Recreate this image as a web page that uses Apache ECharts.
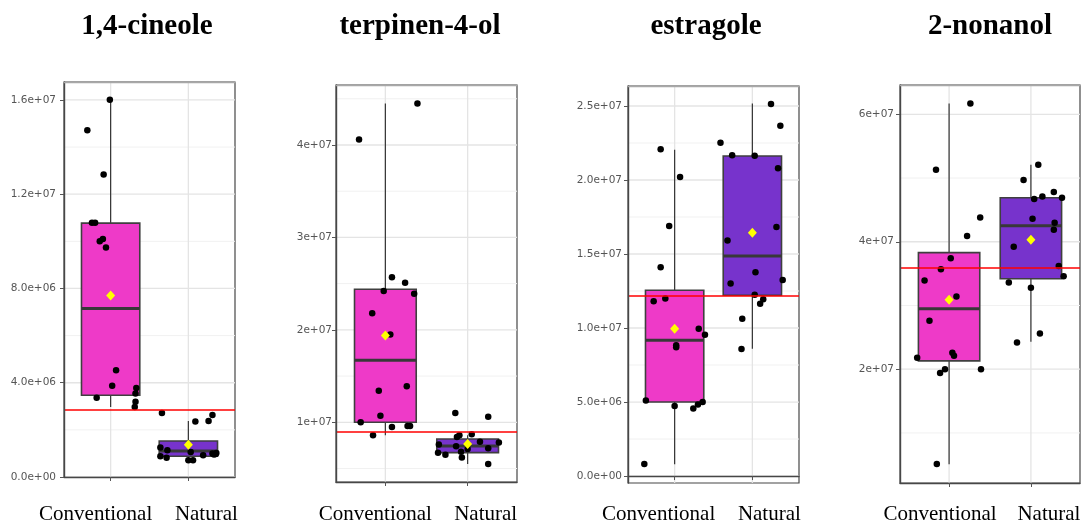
<!DOCTYPE html>
<html>
<head>
<meta charset="utf-8">
<script src="https://cdn.jsdelivr.net/npm/echarts@6/dist/echarts.min.js"></script>
<style>
  html, body { margin: 0; padding: 0; background: #ffffff; }
  #chart { width: 1083px; height: 524px; }
</style>
</head>
<body>
<div id="chart"></div>
<script>
// ---- data ----------------------------------------------------------------
const categories = ['Conventional', 'Natural'];
const titles = ['1,4-cineole', 'terpinen-4-ol', 'estragole', '2-nonanol'];

// 1,4-cineole
const cineoleConv = [16.01e6, 14.71e6, 12.83e6, 10.79e6, 10.79e6, 10.10e6, 10.00e6, 9.74e6, 4.53e6, 3.87e6, 3.78e6, 3.54e6, 3.36e6, 3.19e6, 2.97e6];
const cineoleConvJitter = [-0.01, -0.30, -0.09, -0.24, -0.20, -0.10, -0.14, -0.06, 0.07, 0.02, 0.33, 0.32, -0.18, 0.32, 0.31];
const cineoleNat = [2.72e6, 2.63e6, 2.38e6, 2.35e6, 1.25e6, 1.13e6, 0.88e6, 0.82e6, 1.06e6, 0.71e6, 0.71e6, 0.92e6, 1.00e6, 0.95e6, 1.02e6, 0.98e6];
const cineoleNatJitter = [-0.34, 0.31, 0.26, 0.09, -0.36, -0.27, -0.36, -0.28, 0.03, 0.00, 0.06, 0.19, 0.31, 0.33, 0.36, 0.35];
const cineoleBox = [[2.97e6, 3.47e6, 7.15e6, 10.77e6, 16.01e6], [0.71e6, 0.88e6, 1.10e6, 1.53e6, 2.38e6]];
const cineoleMean = [7.70e6, 1.37e6];
const cineoleRef = 2.86e6;
const cineoleTicks = [0, 4e6, 8e6, 12e6, 16e6];
const cineoleTickLabels = ['0.0e+00', '4.0e+06', '8.0e+06', '1.2e+07', '1.6e+07'];

// terpinen-4-ol
const terpConv = [4.45e7, 4.06e7, 2.57e7, 2.51e7, 2.42e7, 2.39e7, 2.18e7, 1.95e7, 1.39e7, 1.34e7, 1.07e7, 1.00e7, 0.95e7, 0.96e7, 0.96e7, 0.86e7];
const terpConvJitter = [0.39, -0.32, 0.08, 0.24, -0.02, 0.35, -0.16, 0.06, 0.26, -0.08, -0.06, -0.30, 0.08, 0.27, 0.30, -0.15];
const terpNat = [1.10e7, 1.06e7, 0.86e7, 0.87e7, 0.79e7, 0.78e7, 0.76e7, 0.74e7, 0.72e7, 0.71e7, 0.68e7, 0.67e7, 0.65e7, 0.84e7, 0.62e7, 0.55e7];
const terpNatJitter = [-0.15, 0.25, -0.10, 0.05, 0.15, 0.38, -0.35, -0.14, 0.25, 0.00, -0.08, -0.36, -0.27, -0.13, -0.07, 0.25];
const terpBox = [[0.86e7, 1.00e7, 1.67e7, 2.44e7, 4.45e7], [0.55e7, 0.672e7, 0.744e7, 0.82e7, 0.86e7]];
const terpMean = [1.94e7, 0.766e7];
const terpRef = 0.903e7;
const terpTicks = [1e7, 2e7, 3e7, 4e7];
const terpTickLabels = ['1e+07', '2e+07', '3e+07', '4e+07'];

// estragole
const estrConv = [2.207e7, 2.02e7, 1.69e7, 1.41e7, 1.18e7, 1.20e7, 0.995e7, 0.955e7, 0.883e7, 0.87e7, 0.511e7, 0.473e7, 0.457e7, 0.484e7, 0.50e7, 0.081e7];
const estrConvJitter = [-0.18, 0.07, -0.07, -0.18, -0.27, -0.12, 0.31, 0.39, 0.02, 0.02, -0.37, 0.00, 0.24, 0.30, 0.36, -0.39];
const estrNat = [2.513e7, 2.367e7, 2.252e7, 2.167e7, 2.164e7, 2.079e7, 1.682e7, 1.592e7, 1.376e7, 1.30e7, 1.324e7, 1.225e7, 1.194e7, 1.164e7, 1.063e7, 0.858e7];
const estrNatJitter = [0.24, 0.36, -0.41, -0.26, 0.03, 0.33, 0.31, -0.32, 0.04, -0.28, 0.39, 0.03, 0.14, 0.10, -0.13, -0.14];
const estrBox = [[0.08e7, 0.50e7, 0.917e7, 1.255e7, 2.205e7], [0.86e7, 1.221e7, 1.486e7, 2.162e7, 2.516e7]];
const estrMean = [0.995e7, 1.644e7];
const estrRef = 1.216e7;
const estrTicks = [0, 5e6, 1e7, 1.5e7, 2e7, 2.5e7];
const estrTickLabels = ['0.0e+00', '5.0e+06', '1.0e+07', '1.5e+07', '2.0e+07', '2.5e+07'];

// 2-nonanol
const nonConv = [6.17e7, 5.13e7, 4.38e7, 4.09e7, 3.74e7, 3.57e7, 3.39e7, 3.14e7, 2.76e7, 2.26e7, 2.21e7, 2.18e7, 2.00e7, 1.94e7, 2.00e7, 0.513e7];
const nonConvJitter = [0.26, -0.16, 0.38, 0.22, 0.02, -0.10, -0.30, 0.09, -0.24, 0.04, 0.06, -0.39, -0.05, -0.11, 0.39, -0.15];
const nonNat = [5.21e7, 4.97e7, 4.78e7, 4.67e7, 4.71e7, 4.69e7, 4.36e7, 4.30e7, 4.19e7, 3.92e7, 3.62e7, 3.46e7, 3.36e7, 3.28e7, 2.56e7, 2.42e7];
const nonNatJitter = [0.09, -0.09, 0.28, 0.04, 0.14, 0.38, 0.02, 0.29, 0.28, -0.21, 0.34, 0.40, -0.27, 0.00, 0.11, -0.17];
const nonBox = [[0.51e7, 2.13e7, 2.95e7, 3.83e7, 6.17e7], [2.43e7, 3.42e7, 4.25e7, 4.69e7, 5.21e7]];
const nonMean = [3.09e7, 4.03e7];
const nonRef = 3.59e7;
const nonTicks = [2e7, 4e7, 6e7];
const nonTickLabels = ['2e+07', '4e+07', '6e+07'];

// ---- panel layout ----------------------------------------------------------
const panels = [
  { title: titles[0], titleX: 147, grid: { left: 64, top: 82, width: 171, height: 395 }, yRange: [0, 16.76e6],
    conv: cineoleConv, convJ: cineoleConvJitter, nat: cineoleNat, natJ: cineoleNatJitter,
    box: cineoleBox, mean: cineoleMean, ref: cineoleRef, ticks: cineoleTicks, tickLabels: cineoleTickLabels,
    labelMargin: 8, catMargin: 27, catShift: [-15, 18] },
  { title: titles[1], titleX: 420, grid: { left: 336, top: 85, width: 181, height: 397 }, yRange: [3.54e6, 46.49e6],
    conv: terpConv, convJ: terpConvJitter, nat: terpNat, natJ: terpNatJitter,
    box: terpBox, mean: terpMean, ref: terpRef, ticks: terpTicks, tickLabels: terpTickLabels,
    labelMargin: 4, catMargin: 22, catShift: [-10, 18] },
  { title: titles[2], titleX: 706, grid: { left: 628, top: 86, width: 171, height: 397 }, yRange: [-0.47e6, 26.35e6],
    conv: estrConv, convJ: estrConvJitter, nat: estrNat, natJ: estrNatJitter,
    box: estrBox, mean: estrMean, ref: estrRef, ticks: estrTicks, tickLabels: estrTickLabels,
    labelMargin: 6, catMargin: 21, catShift: [-16, 17] },
  { title: titles[3], titleX: 990, grid: { left: 900, top: 85, width: 180, height: 398 }, yRange: [2.14e6, 64.6e6],
    conv: nonConv, convJ: nonConvJitter, nat: nonNat, natJ: nonNatJitter,
    box: nonBox, mean: nonMean, ref: nonRef, ticks: nonTicks, tickLabels: nonTickLabels,
    labelMargin: 6, catMargin: 21, catShift: [-9, 18] }
];

const BOX_COLORS = ['#ee3ac8', '#7733cc'];
const BOX_WIDTH = 0.75;
const X_MIN = 0.4, X_MAX = 2.6;

// one gridline per item: [x1, y1, x2, y2, major(1)/minor(0)] in data units
function renderGridLine(params, api) {
  const a = api.coord([api.value(0), api.value(1)]);
  const b = api.coord([api.value(2), api.value(3)]);
  const major = api.value(4) === 1;
  return {
    type: 'line',
    shape: { x1: a[0], y1: a[1], x2: b[0], y2: b[1] },
    style: { stroke: major ? '#e4e4e4' : '#f1f1f1', lineWidth: major ? 1.3 : 1 }
  };
}

function renderBox(params, api) {
  const x = api.value(0);
  const lo = api.coord([x, api.value(1)]);
  const q1 = api.coord([x, api.value(2)]);
  const md = api.coord([x, api.value(3)]);
  const q3 = api.coord([x, api.value(4)]);
  const hi = api.coord([x, api.value(5)]);
  const half = api.coord([x + BOX_WIDTH / 2, api.value(3)])[0] - md[0];
  const whisker = { stroke: '#333333', lineWidth: 1.2 };
  return {
    type: 'group',
    children: [
      { type: 'line', shape: { x1: lo[0], y1: lo[1], x2: q1[0], y2: q1[1] }, style: whisker },
      { type: 'line', shape: { x1: q3[0], y1: q3[1], x2: hi[0], y2: hi[1] }, style: whisker },
      { type: 'rect', shape: { x: md[0] - half, y: q3[1], width: 2 * half, height: q1[1] - q3[1] },
        style: { fill: BOX_COLORS[params.dataIndex], stroke: '#3f3f3f', lineWidth: 1.6 } },
      { type: 'line', shape: { x1: md[0] - half, y1: md[1], x2: md[0] + half, y2: md[1] },
        style: { stroke: '#383838', lineWidth: 3 } }
    ]
  };
}

const option = {
  animation: false,
  backgroundColor: '#ffffff',
  grid: [], xAxis: [], yAxis: [], series: [],
  graphic: { elements: [] }
};

panels.forEach((p, i) => {
  option.grid.push(Object.assign({
    show: true, borderColor: '#474747', borderWidth: 1.2, backgroundColor: '#ffffff',
    containLabel: false, outerBoundsMode: 'none'
  }, p.grid));

  // groups sit at 1 and 2 on a continuous x scale
  option.xAxis.push({
    gridIndex: i, type: 'value', min: X_MIN, max: X_MAX, position: 'bottom', z: 8,
    axisLine: { show: true, lineStyle: { color: '#474747', width: 1.4 } },
    axisTick: { show: true, customValues: [1, 2], length: 4, lineStyle: { color: '#555555' } },
    axisLabel: {
      customValues: [1, 2], margin: p.catMargin,
      formatter: v => (v === 1 ? '{c|' + categories[0] + '}' : '{n|' + categories[1] + '}'),
      rich: {
        c: { fontFamily: 'Liberation Serif', fontSize: 21, color: '#000000', padding: [0, -2 * p.catShift[0], 0, 0] },
        n: { fontFamily: 'Liberation Serif', fontSize: 21, color: '#000000', padding: [0, 0, 0, 2 * p.catShift[1]] }
      }
    },
    splitLine: { show: false }
  });
  // light top edge of the panel
  option.xAxis.push({
    gridIndex: i, type: 'value', min: X_MIN, max: X_MAX, position: 'top', z: 8,
    axisLine: { show: true, lineStyle: { color: '#a8a8a8', width: 1.3 } },
    axisTick: { show: false }, axisLabel: { show: false }, splitLine: { show: false }
  });

  option.yAxis.push({
    gridIndex: i, type: 'value', min: p.yRange[0], max: p.yRange[1], z: 8,
    axisLine: { show: true, lineStyle: { color: '#474747', width: 1.4 } },
    axisTick: { show: true, customValues: p.ticks, length: 4, lineStyle: { color: '#555555' } },
    axisLabel: {
      customValues: p.ticks, margin: p.labelMargin,
      formatter: v => p.tickLabels[p.ticks.indexOf(v)],
      fontFamily: 'DejaVu Sans', fontSize: 10.5, color: '#555555'
    },
    splitLine: { show: false }
  });

  // gridlines: major at ticks and groups, minor halfway between ticks
  const step = p.ticks[1] - p.ticks[0];
  const minor = p.ticks.map(t => t - step / 2).concat([p.ticks[p.ticks.length - 1] + step / 2])
    .filter(v => v > p.yRange[0] && v < p.yRange[1]);
  const gridLines = []
    .concat(minor.map(v => [X_MIN, v, X_MAX, v, 0]))
    .concat(p.ticks.map(v => [X_MIN, v, X_MAX, v, 1]))
    .concat([1, 2].map(v => [v, p.yRange[0], v, p.yRange[1], 1]));

  option.series.push({
    type: 'custom', xAxisIndex: 2 * i, yAxisIndex: i, z: 1, silent: true,
    renderItem: renderGridLine, encode: { x: [0, 2], y: [1, 3] }, data: gridLines
  });

  // boxes with whiskers
  option.series.push({
    type: 'custom', xAxisIndex: 2 * i, yAxisIndex: i, z: 2, silent: true,
    renderItem: renderBox,
    encode: { x: 0, y: [1, 2, 3, 4, 5] },
    data: p.box.map((b, k) => [k + 1].concat(b))
  });

  // reference line
  option.series.push({
    type: 'line', xAxisIndex: 2 * i, yAxisIndex: i, data: [], z: 3, silent: true,
    markLine: { silent: true, symbol: 'none', label: { show: false },
      lineStyle: { color: '#ff0000', width: 1.5, type: 'solid' }, data: [{ yAxis: p.ref }] }
  });

  // jittered observations
  const pts = p.conv.map((v, k) => [1 + p.convJ[k], v]).concat(p.nat.map((v, k) => [2 + p.natJ[k], v]));
  option.series.push({
    type: 'scatter', xAxisIndex: 2 * i, yAxisIndex: i, z: 4, silent: true,
    symbol: 'circle', symbolSize: 6.5, itemStyle: { color: '#000000', opacity: 1 },
    data: pts
  });

  // group means
  option.series.push({
    type: 'scatter', xAxisIndex: 2 * i, yAxisIndex: i, z: 5, silent: true,
    symbol: 'diamond', symbolSize: [9, 10], itemStyle: { color: '#ffff00', opacity: 1 },
    data: p.mean.map((m, k) => [k + 1, m])
  });

  option.graphic.elements.push({
    type: 'text', x: p.titleX, y: 27, silent: true,
    style: { text: p.title, font: 'bold 29px "Liberation Serif"', fill: '#000000',
      align: 'center', verticalAlign: 'middle', textAlign: 'center', textVerticalAlign: 'middle' }
  });
});

const chart = echarts.init(document.getElementById('chart'), null, { renderer: 'canvas' });
chart.setOption(option);
</script>
</body>
</html>
